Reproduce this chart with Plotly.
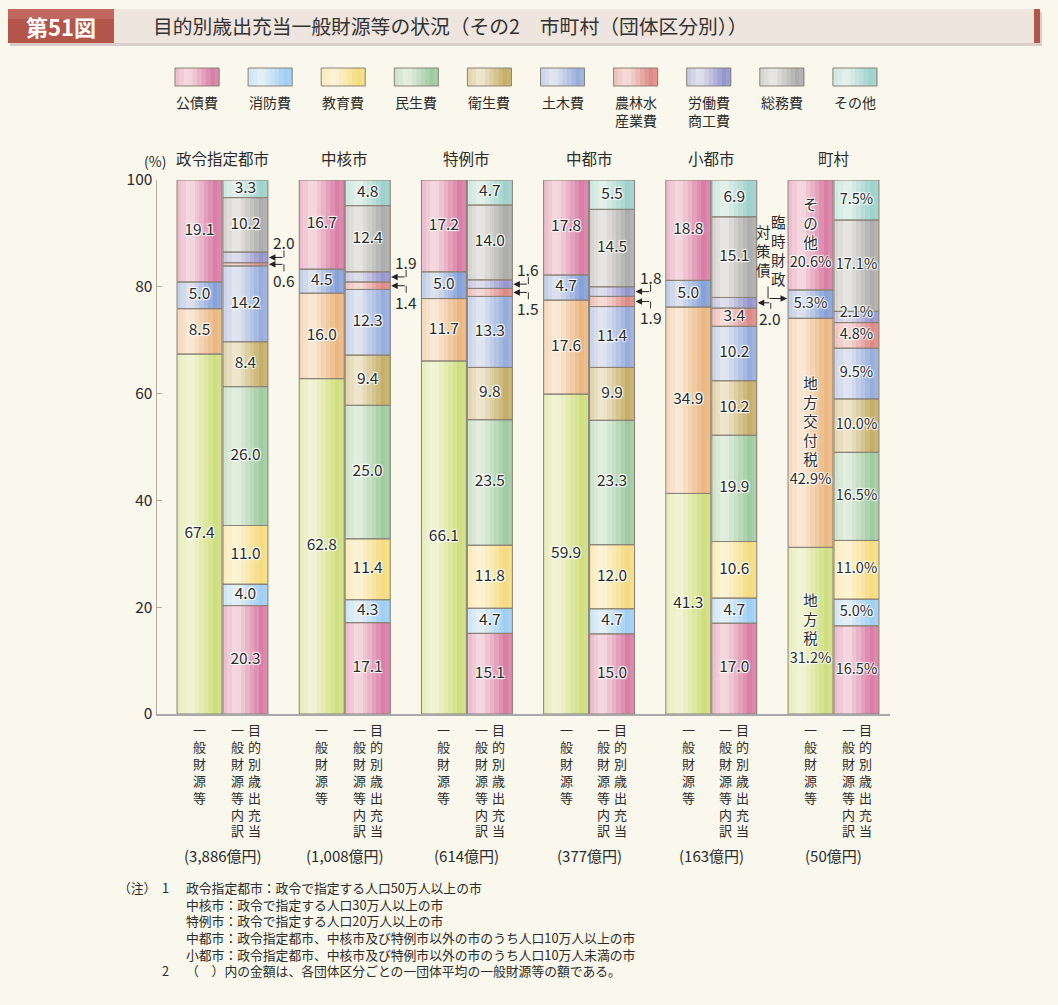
import numpy as np
import plotly.graph_objects as go

# ---------------- data ----------------
groups = ["政令指定都市", "中核市", "特例市", "中都市", "小都市", "町村"]
amounts = ["(3,886億円)", "(1,008億円)", "(614億円)", "(377億円)", "(163億円)", "(50億円)"]

# 一般財源等 (left bars), bottom -> top
chiho_zei = [67.4, 62.8, 66.1, 59.9, 41.3, 31.2]      # 地方税
kofuzei = [8.5, 16.0, 11.7, 17.6, 34.9, 42.9]         # 地方交付税
rinji = [5.0, 4.5, 5.0, 4.7, 5.0, 5.3]                # 臨時財政対策債
sonota_rev = [19.1, 16.7, 17.2, 17.8, 18.8, 20.6]     # その他

# 目的別歳出充当一般財源等内訳 (right bars), bottom -> top
kosaihi = [20.3, 17.1, 15.1, 15.0, 17.0, 16.5]        # 公債費
shobohi = [4.0, 4.3, 4.7, 4.7, 4.7, 5.0]              # 消防費
kyoikuhi = [11.0, 11.4, 11.8, 12.0, 10.6, 11.0]       # 教育費
minseihi = [26.0, 25.0, 23.5, 23.3, 19.9, 16.5]       # 民生費
eiseihi = [8.4, 9.4, 9.8, 9.9, 10.2, 10.0]            # 衛生費
dobokuhi = [14.2, 12.3, 13.3, 11.4, 10.2, 9.5]        # 土木費
norin = [0.6, 1.4, 1.5, 1.9, 3.4, 4.8]                # 農林水産業費
rodo = [2.0, 1.9, 1.6, 1.8, 2.0, 2.1]                 # 労働費商工費
somuhi = [10.2, 12.4, 14.0, 14.5, 15.1, 17.1]         # 総務費
sonota_exp = [3.3, 4.8, 4.7, 5.5, 6.9, 7.5]           # その他

exp_labels = ["公債費", "消防費", "教育費", "民生費", "衛生費", "土木費",
              "農林水<br>産業費", "労働費<br>商工費", "総務費", "その他"]
exp_colors = ["#D97FA6", "#9FCFF2", "#F5DC80", "#9FCBA2", "#C6AF68",
              "#97AEDD", "#DE8A86", "#9596CE", "#ADADAB", "#9ED2CB"]
rev_labels = ["地方税", "地方交付税", "臨時財政対策債", "その他"]
rev_colors = ["#CFDF80", "#EBB882", "#86A2D8", "#D97FA6"]

y_ticks = [0, 20, 40, 60, 80, 100]

note_lines = [
    "政令指定都市：政令で指定する人口50万人以上の市",
    "中核市：政令で指定する人口30万人以上の市",
    "特例市：政令で指定する人口20万人以上の市",
    "中都市：政令指定都市、中核市及び特例市以外の市のうち人口10万人以上の市",
    "小都市：政令指定都市、中核市及び特例市以外の市のうち人口10万人未満の市",
    "（　）内の金額は、各団体区分ごとの一団体平均の一般財源等の額である。",
]
note_marks = [("（注）", 116, 887), ("1", 160, 887), ("2", 160, 970)]

# ---------------- geometry / style ----------------
FONT = "Noto Sans CJK JP"
BG = "#FAF7EC"
TXT = "#2b2b2b"
OUT = "#8a8276"
W, H = 1058, 1005
PL, PR, PT, PB = 157, 890, 180, 714
X0PX, XSTEP = 222.5, 122.2
BW = 0.368
OFF = 0.188
NSTRIP = 10


def xdata(p):
    return (p - X0PX) / XSTEP


def px(x):
    return (x - PL) / (PR - PL)


def py(y):
    return (PB - y) / (PB - PT)


prof_t = [0, 0.3, 0.85, 1.0]
prof_f = [0.55, 0.25, 1.0, 0.88]


def shade(hexc, t):
    f = float(np.interp(t, prof_t, prof_f))
    rgb = [int(hexc[i:i + 2], 16) for i in (1, 3, 5)]
    w = (255, 253, 248)
    return "rgb(%d,%d,%d)" % tuple(round(wc + (c - wc) * f) for c, wc in zip(rgb, w))


fig = go.Figure()
gx = np.arange(len(groups))


def add_stack(series, colors, center_off):
    arr = np.array(series, dtype=float)
    ncat = arr.shape[0]
    bases = np.vstack([np.zeros(len(groups)), np.cumsum(arr, axis=0)[:-1]])
    xc = np.tile(gx + center_off, ncat)
    vals = arr.flatten()
    bflat = bases.flatten()
    cols = np.repeat(colors, len(groups))
    sw = BW / NSTRIP
    for k in range(NSTRIP):
        t = (k + 0.5) / NSTRIP
        fig.add_trace(go.Bar(
            x=xc - BW / 2 + (k + 0.5) * sw, y=vals, base=bflat,
            width=sw * 1.15,
            marker=dict(color=[shade(c, t) for c in cols], line=dict(width=0)),
            hoverinfo="skip", showlegend=False))
    fig.add_trace(go.Bar(
        x=xc, y=vals, base=bflat, width=BW,
        marker=dict(color="rgba(0,0,0,0)", line=dict(color=OUT, width=1)),
        hoverinfo="skip", showlegend=False))
    return arr, bases


rev_series = [chiho_zei, kofuzei, rinji, sonota_rev]
exp_series = [kosaihi, shobohi, kyoikuhi, minseihi, eiseihi, dobokuhi,
              norin, rodo, somuhi, sonota_exp]
rev_arr, rev_base = add_stack(rev_series, rev_colors, -OFF)
exp_arr, exp_base = add_stack(exp_series, exp_colors, OFF)

# ---------------- value labels ----------------
halo = "1px 1px 1px #fff, -1px -1px 1px #fff, 1px -1px 1px #fff, -1px 1px 1px #fff"
lx, ly, lt = [], [], []      # plain numbers
qx, qy, qt = [], [], []      # percent labels (町村)
sp_prefix = ["地<br>方<br>税<br>", "地<br>方<br>交<br>付<br>税<br>", "", "そ<br>の<br>他<br>"]
for ci in range(rev_arr.shape[0]):
    for gi in range(len(groups)):
        v = rev_arr[ci, gi]
        yc = rev_base[ci, gi] + v / 2
        if gi == 5:
            qx.append(gi - OFF); qy.append(yc); qt.append(sp_prefix[ci] + f"{v:.1f}%")
        else:
            lx.append(gi - OFF); ly.append(yc); lt.append(f"{v:.1f}")
for ci in range(exp_arr.shape[0]):
    for gi in range(len(groups)):
        if (ci in (6, 7) and gi < 4) or (ci == 7 and gi == 4):
            continue
        v = exp_arr[ci, gi]
        yc = exp_base[ci, gi] + v / 2
        if v < 3:
            yc = exp_base[ci, gi] + v - 0.4
        if gi == 5:
            qx.append(gi + OFF); qy.append(yc); qt.append(f"{v:.1f}%")
        else:
            lx.append(gi + OFF); ly.append(yc); lt.append(f"{v:.1f}")

fig.add_trace(go.Scatter(
    x=lx, y=ly, text=lt, mode="text", cliponaxis=False,
    textfont=dict(family=FONT, size=15.5, color=TXT, shadow=halo),
    hoverinfo="skip", showlegend=False))
fig.add_trace(go.Scatter(
    x=qx, y=qy, text=qt, mode="text", cliponaxis=False,
    textfont=dict(family=FONT, size=14.5, color=TXT, shadow=halo),
    hoverinfo="skip", showlegend=False))

annotations = []
shapes = []


def fnt(size):
    return dict(family=FONT, size=size, color=TXT)


# small-segment call-outs (right side of right bars)
edge_off = OFF + BW / 2
for gi in range(4):
    for ci, up in ((7, True), (6, False)):
        v = exp_arr[ci, gi]
        yc = exp_base[ci, gi] + v / 2
        xe = gi + edge_off
        annotations.append(dict(x=xe, y=yc, xref="x", yref="y", ax=16, ay=0,
                                showarrow=True, arrowhead=2, arrowsize=1.3,
                                arrowwidth=1, arrowcolor="#222", standoff=1, text=""))
        shapes.append(dict(type="line", xref="x", yref="y", xsizemode="pixel",
                           ysizemode="pixel", xanchor=xe, yanchor=yc,
                           x0=16, x1=16, y0=0, y1=7 if up else -7,
                           line=dict(color="#333", width=1)))
        annotations.append(dict(x=xe, y=yc, xref="x", yref="y", xshift=16,
                                yshift=15 if up else -16, showarrow=False,
                                xanchor="center", yanchor="middle",
                                text=f"{v:.1f}", font=fnt(15.5)))

# 小都市 労働費商工費 2.0
gi = 4
v = exp_arr[7, gi]
yc = exp_base[7, gi] + v / 2
xe = gi + edge_off
annotations.append(dict(x=xe, y=yc, xref="x", yref="y", ax=14, ay=0, showarrow=True,
                        arrowhead=2, arrowsize=1.3, arrowwidth=1, arrowcolor="#222",
                        standoff=1, text=""))
shapes.append(dict(type="line", xref="x", yref="y", xsizemode="pixel", ysizemode="pixel",
                   xanchor=xe, yanchor=yc, x0=14, x1=14, y0=0, y1=-6,
                   line=dict(color="#333", width=1)))
annotations.append(dict(x=xe, y=yc, xref="x", yref="y", xshift=13, yshift=-15,
                        xanchor="center", yanchor="middle",
                        showarrow=False, text=f"{v:.1f}", font=fnt(15.5)))

# 町村 臨時財政対策債 call-out
gi = 5
yc = rev_base[2, gi] + rev_arr[2, gi] * 0.7
xl = gi - OFF - BW / 2
annotations.append(dict(x=xl, y=yc, xref="x", yref="y", ax=-20, ay=0, showarrow=True,
                        arrowhead=2, arrowsize=1.3, arrowwidth=1, arrowcolor="#222",
                        standoff=1, text=""))
shapes.append(dict(type="line", xref="x", yref="y", xsizemode="pixel", ysizemode="pixel",
                   xanchor=xl, yanchor=yc, x0=-20, x1=-20, y0=0, y1=12,
                   line=dict(color="#333", width=1)))
annotations.append(dict(x=xl, y=yc, xref="x", yref="y", xshift=-10, yshift=7,
                        xanchor="center", yanchor="bottom", showarrow=False,
                        text="<br>".join("臨時財政"), font=fnt(14.5)))
annotations.append(dict(x=xl, y=yc, xref="x", yref="y", xshift=-25, yshift=16,
                        xanchor="center", yanchor="bottom", showarrow=False,
                        text="<br>".join("対策債"), font=fnt(14.5)))

# group titles, amounts, vertical bar captions
col_a = xdata(237)
col_b = xdata(254)
for gi, g in enumerate(groups):
    annotations.append(dict(x=gi, y=100, xref="x", yref="y", yshift=22, showarrow=False,
                            xanchor="center", yanchor="middle", text=g, font=fnt(15.5)))
    annotations.append(dict(x=gi, y=0, xref="x", yref="y", yshift=-141, showarrow=False,
                            xanchor="center", yanchor="middle", text=amounts[gi],
                            font=fnt(15)))
    for xo, word in ((-OFF, "一般財源等"), (col_a, "一般財源等内訳"), (col_b, "目的別歳出充当")):
        annotations.append(dict(x=gi + xo, y=0, xref="x", yref="y", yshift=-4,
                                xanchor="center", yanchor="top", showarrow=False,
                                text="<br>".join(word), font=fnt(13)))

# (%) label
annotations.append(dict(x=px(155), y=py(161), xref="paper", yref="paper", showarrow=False,
                        xanchor="center", yanchor="middle", text="(%)", font=fnt(14)))

# legend (custom)
for j, (lab, col) in enumerate(zip(exp_labels, exp_colors)):
    x0 = 175 + 73.1 * j
    x1 = x0 + 44
    sw = (x1 - x0) / NSTRIP
    for k in range(NSTRIP):
        t = (k + 0.5) / NSTRIP
        shapes.append(dict(type="rect", xref="paper", yref="paper",
                           x0=px(x0 + k * sw), x1=px(x0 + (k + 1) * sw + 0.5),
                           y0=py(86), y1=py(68), fillcolor=shade(col, t),
                           line=dict(width=0), layer="above"))
    shapes.append(dict(type="rect", xref="paper", yref="paper", x0=px(x0), x1=px(x1),
                       y0=py(86), y1=py(68), line=dict(color=OUT, width=1), layer="above"))
    annotations.append(dict(x=px((x0 + x1) / 2), y=py(90), xref="paper", yref="paper",
                            xanchor="center", yanchor="top", showarrow=False, text=lab,
                            align="center", font=fnt(14)))

# header
shapes += [
    dict(type="rect", xref="paper", yref="paper", x0=px(10), x1=px(1042), y0=py(46), y1=py(12),
         fillcolor="#D9CFC8", line=dict(width=0)),
    dict(type="rect", xref="paper", yref="paper", x0=px(8), x1=px(1040), y0=py(43), y1=py(9),
         fillcolor="#EFE5DF", line=dict(width=0)),
    dict(type="rect", xref="paper", yref="paper", x0=px(1034), x1=px(1040), y0=py(43), y1=py(9),
         fillcolor="#B4554C", line=dict(width=0)),
    dict(type="rect", xref="paper", yref="paper", x0=px(8), x1=px(114), y0=py(43), y1=py(9),
         fillcolor="#B4554C", line=dict(width=0)),
    dict(type="rect", xref="paper", yref="paper", x0=px(8), x1=px(114), y0=py(19), y1=py(9),
         fillcolor="#C0685F", line=dict(width=0)),
]
annotations.append(dict(x=px(61), y=py(26), xref="paper", yref="paper", showarrow=False,
                        xanchor="center", yanchor="middle",
                        text="<b>第51図</b>", font=dict(family=FONT, size=22, color="white")))
annotations.append(dict(x=px(151), y=py(26), xref="paper", yref="paper", xanchor="left",
                        yanchor="middle", showarrow=False,
                        text="目的別歳出充当一般財源等の状況（その2　市町村（団体区分別））",
                        font=dict(family=FONT, size=19.8, color="#333")))

# notes
annotations.append(dict(x=px(184), y=py((887 + 970) / 2), xref="paper", yref="paper",
                        xanchor="left", yanchor="middle", align="left", showarrow=False,
                        text="<br>".join(note_lines), font=fnt(12.8)))
for txt, x, y in note_marks:
    annotations.append(dict(x=px(x), y=py(y), xref="paper", yref="paper", xanchor="left",
                            yanchor="middle", showarrow=False, text=txt, font=fnt(12.8)))

fig.update_layout(
    width=W, height=H,
    margin=dict(l=PL, r=W - PR, t=PT, b=H - PB, pad=0),
    paper_bgcolor=BG, plot_bgcolor=BG,
    barmode="overlay", showlegend=False, bargap=0,
    font=dict(family=FONT, color=TXT),
    xaxis=dict(range=[xdata(PL), xdata(PR)], showgrid=False, zeroline=False,
               showticklabels=False, ticks="", showline=True, linecolor="#a8a8a8",
               linewidth=2, fixedrange=True),
    yaxis=dict(range=[0, 100], tickvals=y_ticks, showgrid=False, zeroline=False,
               ticks="inside", ticklen=5, tickcolor="#b5ad9c", showline=True,
               linecolor="#b5ad9c", linewidth=1.5, tickfont=dict(size=15.5, color=TXT),
               fixedrange=True),
    annotations=annotations, shapes=shapes,
)

fig.write_html("out.html", config={"displayModeBar": False, "staticPlot": True},
               post_script="document.body.style.margin='0';"
                           "document.body.style.background='%s';" % BG)
